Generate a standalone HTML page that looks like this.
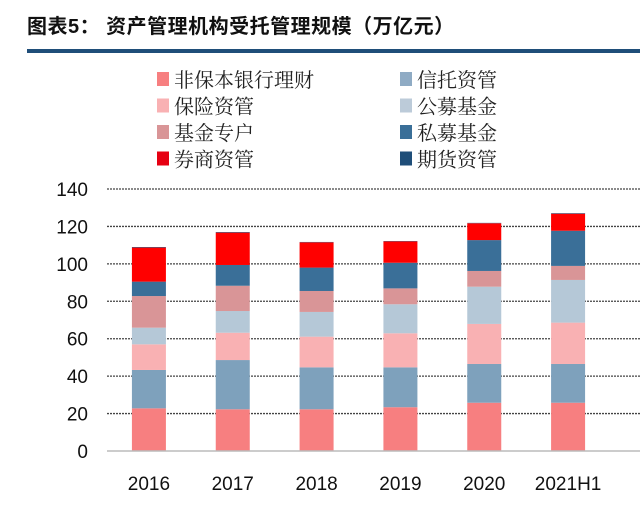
<!DOCTYPE html>
<html><head><meta charset="utf-8"><style>
html,body{margin:0;padding:0;background:#fff;width:640px;height:514px;overflow:hidden}
</style></head><body>
<svg width="640" height="514" xmlns="http://www.w3.org/2000/svg">
<text x="27" y="33" font-family="'Liberation Sans','Noto Sans CJK SC',sans-serif" font-size="20" font-weight="bold" fill="#111" letter-spacing="0.5">图表5：  资产管理机构受托管理规模（万亿元）</text>
<rect x="27" y="49" width="613" height="4" fill="#1f4e79"/>
<g id="legend"></g>
<g id="grid"></g>
<g id="bars"></g>
<g id="axes"></g>
</svg>
<script>
const categories=["2016","2017","2018","2019","2020","2021H1"];
const seriesNames=["非保本银行理财","信托资管","保险资管","公募基金","基金专户","私募基金","券商资管","期货资管"];
const bank=[22.8,22.3,22.3,23.4,25.8,25.8];
const trust=[20.5,26.3,22.4,21.3,20.7,20.7];
const insurance=[13.7,14.6,16.4,18.2,21.4,22.1];
const publicFund=[8.9,11.6,13.2,15.5,19.9,22.8];
const fundSpecial=[16.9,13.5,11.2,8.5,8.4,7.5];
const privateFund=[7.7,11.1,12.5,13.7,16.5,18.8];
const broker=[18.2,17.3,13.5,11.4,9.0,9.1];
const futures=[0.3,0.3,0.2,0.2,0.2,0.3];
const yTicks=[0,20,40,60,80,100,120,140];
const series=[bank,trust,insurance,publicFund,fundSpecial,privateFund,broker,futures];
const colors=["#f77f80","#7ea1bc","#f9b1b3","#b5c8d7","#d99597","#3a6f98","#ff0000","#1f4e79"];
const legendColors=["#f77f80","#8fabc4","#f9b1b3","#bccbd9","#d99597","#3a6f98","#e60012","#1f4e79"];
const NS="http://www.w3.org/2000/svg";
const X0=107,X1=610,Y0=451,Y1=189,VMAX=140;
const y=v=>Y0-(v/VMAX)*(Y0-Y1);
const band=(X1-X0)/categories.length;
const xc=i=>X0+band*(i+0.5);
const BW=34;
function mk(tag,attrs,parent){const e=document.createElementNS(NS,tag);for(const k in attrs)e.setAttribute(k,attrs[k]);parent.appendChild(e);return e;}
const grid=document.getElementById('grid'),bars=document.getElementById('bars'),axes=document.getElementById('axes'),legend=document.getElementById('legend');
yTicks.forEach(t=>{
 if(t>0){const l=mk('line',{x1:X0,x2:640,y1:y(t),y2:y(t),stroke:'#444','stroke-width':1.3,'stroke-dasharray':'2,1'},grid);
 
 }
 const tx=mk('text',{x:88,y:y(t)+7,'text-anchor':'end','font-family':'Liberation Sans, sans-serif','font-size':19,fill:'#111'},axes);
 tx.textContent=t;
 
 
});
const base=mk('line',{x1:X0,x2:640,y1:Y0,y2:Y0,stroke:'#bbb','stroke-width':1.5},axes);


categories.forEach((c,i)=>{
 let acc=0;
 series.forEach((s,j)=>{
  const r=mk('rect',{x:xc(i)-BW/2,y:y(acc+s[i]),width:BW,height:y(acc)-y(acc+s[i]),fill:colors[j]},bars);
  
  
  acc+=s[i];
 });
 const tx=mk('text',{x:xc(i),y:490,'text-anchor':'middle','font-family':'Liberation Sans, sans-serif','font-size':19,fill:'#111'},axes);
 tx.textContent=c;
 
 
});
seriesNames.forEach((n,j)=>{
 const col=j%2,row=Math.floor(j/2);
 const lx=col?400:157,ly=85+row*26.5;
 const g=mk('g',{},legend);
 
 
 mk('rect',{x:lx,y:ly-13,width:12,height:14,fill:legendColors[j]},g);
 const t=mk('text',{x:lx+17,y:ly+2,'font-family':"'Liberation Serif','Noto Serif CJK SC',serif",'font-size':20,fill:'#222'},g);
 t.textContent=n;
});
</script>
</body></html>
